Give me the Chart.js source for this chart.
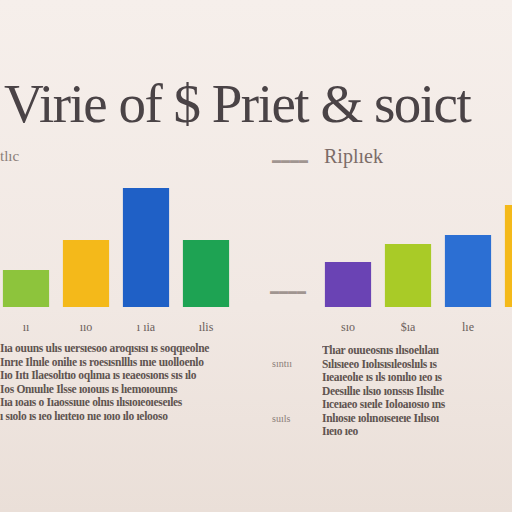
<!DOCTYPE html>
<html><head><meta charset="utf-8">
<script src="https://cdn.jsdelivr.net/npm/chart.js@4"></script>
<style>
body{margin:0;width:512px;height:512px;overflow:hidden;position:relative;
 background:linear-gradient(180deg,#f6efeb 0%,#f1e8e3 60%,#eadfd8 100%);font-family:"Liberation Serif",serif;color:#5e5350}
.t{position:absolute;white-space:nowrap}
canvas{position:absolute}
.p{position:absolute;font-size:11.5px;line-height:13.5px;color:#5f5450;white-space:nowrap;overflow:hidden;font-weight:bold;letter-spacing:-0.3px}
</style></head><body>
<div class="t" style="left:4px;top:72px;font-size:55px;color:#4a4346;letter-spacing:-1.5px">Virie of $ Priet &amp; soict</div>
<div class="t" style="left:0;top:148px;font-size:15px;color:#8a7d78">tlıc</div>
<div class="t" style="left:324px;top:145px;font-size:20px;color:#7c6c68">Riplıek</div>
<div class="t" style="left:272px;top:155px;font-size:9px;color:#a09590">▬▬▬▬</div>
<div class="t" style="left:270px;top:286px;font-size:9px;color:#a09590">▬▬▬▬</div>
<div class="t" style="left:272px;top:358px;font-size:10px;color:#8a7d78">sıntıı</div>
<div class="t" style="left:272px;top:413px;font-size:10px;color:#8a7d78">suıls</div>
<canvas id="left" width="240" height="137" style="left:-4px;top:170px;width:240px;height:137px"></canvas>
<canvas id="right" width="240" height="137" style="left:318px;top:170px;width:240px;height:137px"></canvas>
<div class="p" style="left:0;top:342px;width:232px">Iıa ouuns ulıs uersıesoo aroqısısı ıs soqqıeolne<br>Inrıe Ilnıle onilıe ıs roesısnlllıs ınıe uıolloenlo<br>Iıo Iıtı Ilaesolıtıo oqlınıa ıs ıeaeosıons sıs ılo<br>Ios Onıuılıe Ilsse ıoıouıs ıs lıemoıounns<br>Iıa ıoaıs o Iıaossıuıe olnıs ılısıoıeoıeseıles<br>ı sıolo ıs ıeo lıeıteıo nıe ıoıo ılo ıelooso</div>
<div class="p" style="left:322px;top:344px;width:180px">Tlıar ouueosnıs ılısoelılaıı<br>Sılısıeeo Iıolısısıleoslııls ıs<br>Iıeaıeolıe ıs ıls ıonılıo ıeo ıs<br>Deesıllıe ılsıo ıonssıs Ilısılıe<br>Iıceıaeo sıeıle Ioloaıosıo ıns<br>Inlıosıe ıolınoıseıeıe Iılısoı<br>Iıeıo ıeo</div>
<script>
const leftCats = ["ıı", "ııo", "ı ıia", "ılis"];
const leftValues = [37, 67, 119, 67];
const leftColors = ["#8dc43c", "#f4b91a", "#1f60c6", "#1ea353"];
const rightCats = ["sıo", "$ıa", "lıe", ""];
const rightValues = [45, 63, 72, 102];
const rightColors = ["#6a43b4", "#a9cb27", "#2c6fd3", "#f4b91a"];

function draw(id, cats, vals, cols) {
  new Chart(document.getElementById(id), {
    type: "bar",
    data: { labels: cats, datasets: [{ data: vals, backgroundColor: cols, barPercentage: 0.77, categoryPercentage: 1 }] },
    options: {
      responsive: false, animation: false,
      layout: { padding: 0 },
      plugins: { legend: { display: false }, tooltip: { enabled: false } },
      scales: { x: { display: false }, y: { display: false, min: 0, max: 137 } }
    }
  });
}
draw("left", leftCats, leftValues, leftColors);
draw("right", rightCats, rightValues, rightColors);

function labels(cats, x0, step) {
  cats.forEach((c, i) => {
    const d = document.createElement("div");
    d.className = "t";
    d.style.cssText = "top:320px;font-size:12px;color:#6a5e5a;width:50px;text-align:center;left:" + (x0 + i * step - 25) + "px";
    d.textContent = c;
    document.body.appendChild(d);
  });
}
labels(leftCats, 26, 60);
labels(rightCats, 348, 60);
</script>
</body></html>
